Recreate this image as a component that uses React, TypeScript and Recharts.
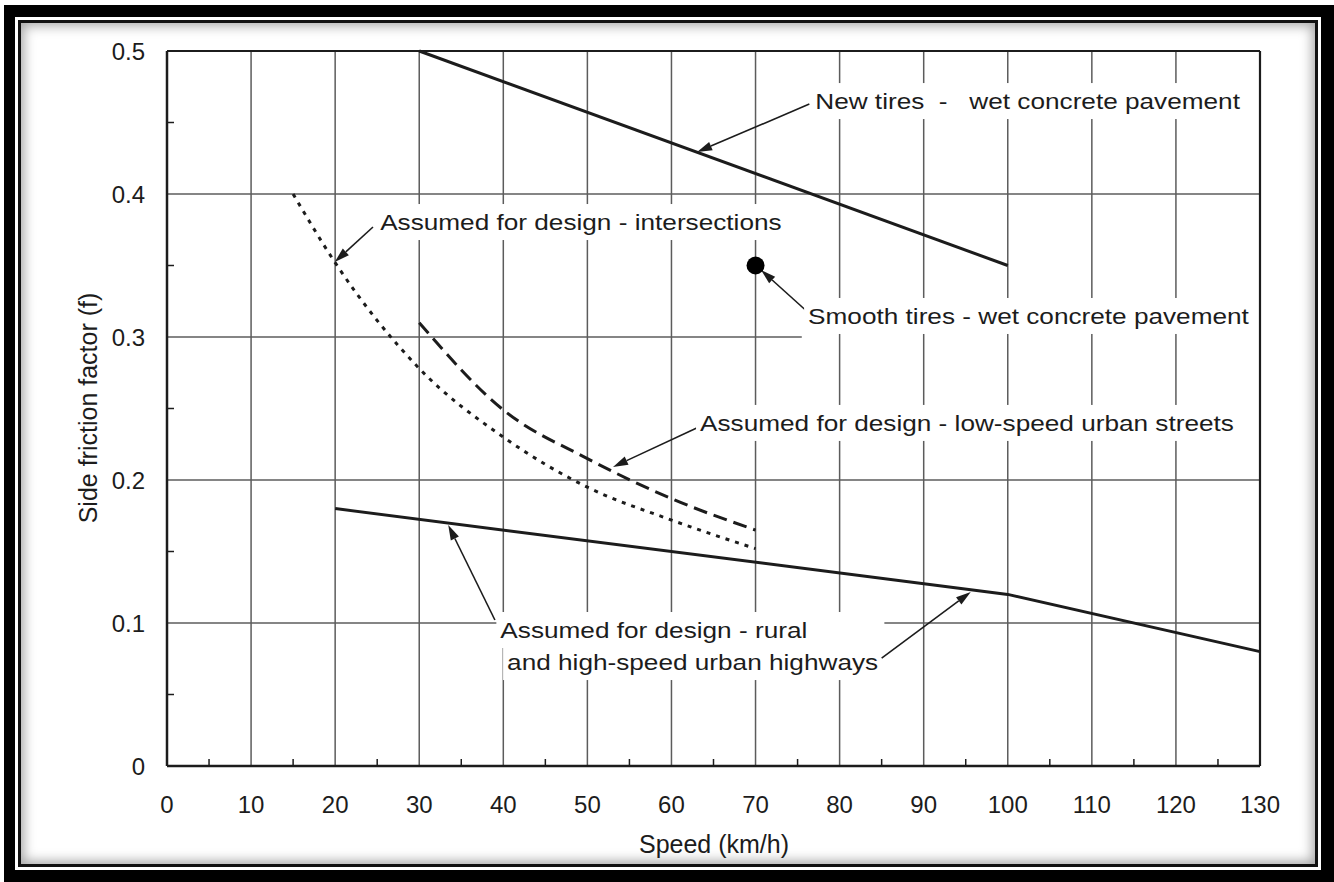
import React from 'react';
import {
    ComposedChart,
    Line,
    Scatter,
    XAxis,
    YAxis,
    ReferenceLine,
    ReferenceDot,
    Label
} from 'recharts';

// --- Look ---
const FONT = '"Liberation Sans", Arial, Helvetica, sans-serif';
const INK = '#1c1c1c';
const GRID = '#5c5c5c';
const NOTE_SCALE = 1.19;

// --- Data (speed in km/h, side friction factor f) ---
const newTireSpeed = [30, 100];
const newTireFriction = [0.5, 0.35];

const smoothTireSpeed = [70];
const smoothTireFriction = [0.35];

const intersectionSpeed = [15, 20, 30, 40, 50, 60, 70];
const intersectionFriction = [0.4, 0.352, 0.278, 0.23, 0.195, 0.172, 0.152];

const lowSpeedSpeed = [30, 40, 50, 60, 70];
const lowSpeedFriction = [0.31, 0.249, 0.215, 0.187, 0.165];

const ruralSpeed = [20, 100, 130];
const ruralFriction = [0.18, 0.12, 0.08];

// --- Ticks / grid ---
const speedTicks = [0, 5, 10, 15, 20, 25, 30, 35, 40, 45, 50, 55, 60, 65, 70, 75, 80, 85, 90, 95, 100, 105, 110, 115, 120, 125, 130];
const frictionTicks = [0, 0.05, 0.1, 0.15, 0.2, 0.25, 0.3, 0.35, 0.4, 0.45, 0.5];
const speedGrid = [10, 20, 30, 40, 50, 60, 70, 80, 90, 100, 110, 120];
const frictionGrid = [0.1, 0.2, 0.4];

const toPoints = (xs: number[], ys: number[]) => xs.map((x, i) => ({ x, y: ys[i] }));

// --- Annotations (text anchored at its left/middle) ---
const notes = [
    { text: 'New tires  -   wet concrete pavement', x: 77.1, y: 0.465, w: 432 },
    { text: 'Assumed for design - intersections', x: 25.35, y: 0.3804, w: 410 },
    { text: 'Smooth tires - wet concrete pavement', x: 76.25, y: 0.3147, w: 448 },
    { text: 'Assumed for design - low-speed urban streets', x: 63.4, y: 0.2399, w: 548 },
    { text: 'Assumed for design - rural', x: 39.65, y: 0.0951, w: 388 },
    { text: 'and high-speed urban highways', x: 40.45, y: 0.0727, w: 376 }
];

const arrows = [
    [{ x: 76.4, y: 0.4629 }, { x: 63.05, y: 0.4294 }],
    [{ x: 24.5, y: 0.3769 }, { x: 19.95, y: 0.3525 }],
    [{ x: 76.2, y: 0.3175 }, { x: 70.65, y: 0.3469 }],
    [{ x: 63.0, y: 0.2364 }, { x: 53.05, y: 0.2091 }],
    [{ x: 39.0, y: 0.1021 }, { x: 33.45, y: 0.1685 }],
    [{ x: 85.0, y: 0.0755 }, { x: 95.6, y: 0.1217 }]
];

function XTick({ x, y, payload }: any) {
    const v = payload.value;
    if (v % 10 !== 0) {
        return <line x1={x} x2={x} y1={y} y2={y - 7} stroke={INK} strokeWidth={1.5} />;
    }
    return (
        <text x={x} y={y + 38} textAnchor="middle" dominantBaseline="central"
            fontSize={24} fontFamily={FONT} fill={INK}>{v}</text>
    );
}

function YTick({ x, y, payload }: any) {
    const v = payload.value;
    if (Math.round(v * 100) % 10 !== 0) {
        return <line x1={x} x2={x + 7} y1={y} y2={y} stroke={INK} strokeWidth={1.5} />;
    }
    return (
        <text x={x - 22} y={y} textAnchor="end" dominantBaseline="central"
            fontSize={24} fontFamily={FONT} fill={INK}>{v === 0 ? '0' : v.toFixed(1)}</text>
    );
}

function ArrowShape(props: any) {
    const { x1, y1, x2, y2 } = props;
    const a = Math.atan2(y2 - y1, x2 - x1);
    const len = 15;
    const half = 4.5;
    const bx = x2 - len * Math.cos(a);
    const by = y2 - len * Math.sin(a);
    const px = -Math.sin(a) * half;
    const py = Math.cos(a) * half;
    return (
        <g>
            <line x1={x1} y1={y1} x2={bx} y2={by} stroke={INK} strokeWidth={1.6} />
            <polygon points={`${x2},${y2} ${bx + px},${by + py} ${bx - px},${by - py}`} fill={INK} />
        </g>
    );
}

function NoteLabel({ cx, cy, text, w }: any) {
    return (
        <g>
            <rect x={cx - 4} y={cy - 18} width={w} height={36} fill="#fff" />
            <text transform={`translate(${cx},${cy}) scale(${NOTE_SCALE},1)`} dominantBaseline="central"
                fontSize={22} fontFamily={FONT} fill={INK} style={{ whiteSpace: 'pre' }}>{text}</text>
        </g>
    );
}

const SpeedTitle = () => (
    <text x={714} y={844} textAnchor="middle" dominantBaseline="central"
        fontSize={25} fontFamily={FONT} fill={INK}>Speed (km/h)</text>
);

const FrictionTitle = () => (
    <text transform="translate(88,408) rotate(-90)" textAnchor="middle" dominantBaseline="central"
        fontSize={25} fontFamily={FONT} fill={INK}>Side friction factor (f)</text>
);

export default function App() {
    return (
        <div style={{ position: 'absolute', left: 0, top: 0, width: 1334, height: 882, background: '#fff', overflow: 'hidden' }}>
            {/* Frame */}
            <div style={{ position: 'absolute', left: 4, top: 5, width: 1330, height: 877, background: '#000' }} />
            <div style={{ position: 'absolute', left: 15, top: 17, width: 1306, height: 853, background: '#fff' }} />
            <div style={{ position: 'absolute', left: 18, top: 20, width: 1300, height: 847, background: '#111' }} />
            <div style={{
                position: 'absolute', left: 21, top: 23, width: 1294, height: 841, background: '#fff',
                boxShadow: 'inset 0 0 12px 3px rgba(0,0,0,0.35)'
            }} />

            <div style={{ position: 'absolute', left: 0, top: 0 }}>
                <ComposedChart width={1334} height={882} margin={{ top: 51, right: 74, bottom: 56, left: 107 }}>
                    <XAxis
                        type="number"
                        dataKey="x"
                        domain={[0, 130]}
                        ticks={speedTicks}
                        interval={0}
                        height={60}
                        tickSize={0}
                        tickMargin={0}
                        tickLine={false}
                        tick={<XTick />}
                        axisLine={{ stroke: INK, strokeWidth: 2.5 }}
                    >
                        <Label content={<SpeedTitle />} />
                    </XAxis>
                    <YAxis
                        type="number"
                        domain={[0, 0.5]}
                        ticks={frictionTicks}
                        interval={0}
                        width={60}
                        tickSize={0}
                        tickMargin={0}
                        tickLine={false}
                        tick={<YTick />}
                        axisLine={{ stroke: INK, strokeWidth: 2.5 }}
                    >
                        <Label content={<FrictionTitle />} />
                    </YAxis>

                    {/* Grid */}
                    {speedGrid.map((v) => (
                        <ReferenceLine key={`vx-${v}`} x={v} stroke={GRID} strokeWidth={1.5} />
                    ))}
                    {frictionGrid.map((v) => (
                        <ReferenceLine key={`hy-${v}`} y={v} stroke={GRID} strokeWidth={1.5} />
                    ))}
                    <ReferenceLine segment={[{ x: 0, y: 0.3 }, { x: 75.5, y: 0.3 }]} stroke={GRID} strokeWidth={1.5} />
                    <ReferenceLine y={0.5} stroke={INK} strokeWidth={2.2} />
                    <ReferenceLine x={130} stroke={INK} strokeWidth={2.2} />

                    {/* Label boxes */}
                    {notes.map((n, i) => (
                        <ReferenceDot key={`note-${i}`} x={n.x} y={n.y} r={0}
                            shape={(p: any) => <NoteLabel cx={p.cx} cy={p.cy} text={n.text} w={n.w} />} />
                    ))}
                    {arrows.map((seg, i) => (
                        <ReferenceLine key={`arrow-${i}`} segment={seg} shape={(p: any) => <ArrowShape {...p} />} />
                    ))}

                    {/* Series */}
                    <Line data={toPoints(newTireSpeed, newTireFriction)} dataKey="y" type="linear"
                        stroke={INK} strokeWidth={3} dot={false} activeDot={false} isAnimationActive={false} />
                    <Line data={toPoints(intersectionSpeed, intersectionFriction)} dataKey="y" type="monotone"
                        stroke={INK} strokeWidth={3} strokeDasharray="4 6" dot={false} activeDot={false} isAnimationActive={false} />
                    <Line data={toPoints(lowSpeedSpeed, lowSpeedFriction)} dataKey="y" type="monotone"
                        stroke={INK} strokeWidth={3} strokeDasharray="14 7" dot={false} activeDot={false} isAnimationActive={false} />
                    <Line data={toPoints(ruralSpeed, ruralFriction)} dataKey="y" type="linear"
                        stroke={INK} strokeWidth={3} dot={false} activeDot={false} isAnimationActive={false} />
                    <Scatter data={toPoints(smoothTireSpeed, smoothTireFriction)} dataKey="y" isAnimationActive={false}
                        shape={(p: any) => <circle cx={p.cx} cy={p.cy} r={9} fill="#000" />} />
                </ComposedChart>
            </div>
        </div>
    );
}
